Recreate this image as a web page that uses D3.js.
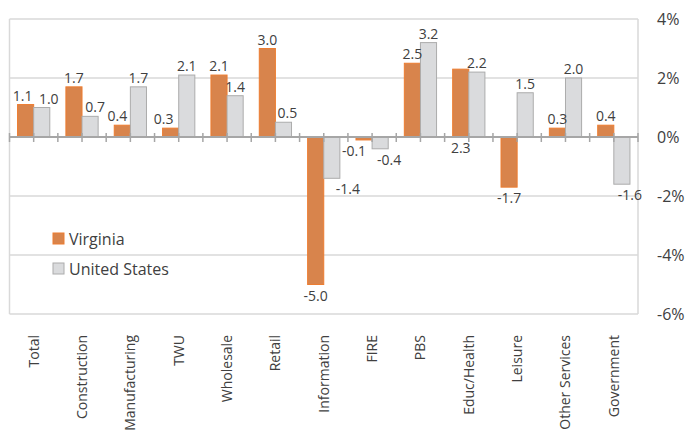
<!DOCTYPE html>
<html>
<head>
<meta charset="utf-8">
<script src="https://cdnjs.cloudflare.com/ajax/libs/d3/7.8.5/d3.min.js"></script>
<style>
  body { margin: 0; background: #fff; }
  text { font-family: "Open Sans", sans-serif; fill: #404040; }
</style>
</head>
<body>
<div id="chart"></div>
<script>
var categories = ["Total", "Construction", "Manufacturing", "TWU", "Wholesale", "Retail",
    "Information", "FIRE", "PBS", "Educ/Health", "Leisure", "Other Services", "Government"];
var virginia     = [1.1, 1.7, 0.4, 0.3, 2.1, 3.0, -5.0, -0.1, 2.5, 2.3, -1.7, 0.3, 0.4];
var unitedStates = [1.0, 0.7, 1.7, 2.1, 1.4, 0.5, -1.4, -0.4, 3.2, 2.2, 1.5, 2.0, -1.6];
var seriesNames  = ["Virginia", "United States"];
var yTicks = [4, 2, 0, -2, -4, -6];

// label tweaks the way they sit in the original
var labelBelowAxis = {"Virginia|Educ/Health": true};
var labelNudge = {"Virginia|Total": -3, "United States|Total": 7,
                  "United States|Construction": 5, "Virginia|Manufacturing": -5,
                  "Virginia|TWU": -7, "United States|Retail": 4,
                  "Virginia|FIRE": -10, "United States|FIRE": 9,
                  "United States|Information": 16, "United States|Government": 8};

var width = 692, height = 433;
var plotL = 9.5, plotR = 638, plotT = 19, plotB = 314;

var svg = d3.select("#chart")
    .append("svg")
    .attr("width", width)
    .attr("height", height);

var x = d3.scaleBand().domain(categories).range([plotL, plotR]);
var x1 = d3.scaleBand().domain(seriesNames).range([0, x.bandwidth()])
    .paddingInner(0).paddingOuter(0.5);
var y = d3.scaleLinear().domain([-6, 4]).range([plotB, plotT]);

var fills   = {"Virginia": "#d8844c", "United States": "#dadbdd"};
var strokes = {"Virginia": "#ed7d31", "United States": "#acacac"};

// gridlines
svg.selectAll("line.grid")
    .data(yTicks.filter(function(d) { return d !== 0; }))
    .enter()
    .append("line")
    .attr("class", "grid")
    .attr("x1", plotL).attr("x2", plotR)
    .attr("y1", function(d) { return y(d); })
    .attr("y2", function(d) { return y(d); })
    .style("stroke", "#d9d9d9")
    .style("stroke-width", 1.5);

// plot border sides
svg.append("line").attr("x1", plotL).attr("x2", plotL).attr("y1", plotT).attr("y2", plotB)
    .style("stroke", "#d9d9d9").style("stroke-width", 1.5);
svg.append("line").attr("x1", plotR).attr("x2", plotR).attr("y1", plotT).attr("y2", plotB)
    .style("stroke", "#d9d9d9").style("stroke-width", 1.5);

// y labels on the right
svg.selectAll("text.ylab")
    .data(yTicks)
    .enter()
    .append("text")
    .attr("class", "ylab")
    .attr("x", 657)
    .attr("y", function(d) { return y(d); })
    .attr("dy", "0.35em")
    .style("font-size", "16px")
    .text(function(d) { return d + "%"; });

// bars
var rows = [];
categories.forEach(function(c, i) {
    rows.push({cat: c, series: "Virginia", value: virginia[i]});
    rows.push({cat: c, series: "United States", value: unitedStates[i]});
});

svg.selectAll("rect.bar")
    .data(rows)
    .enter()
    .append("rect")
    .attr("class", "bar")
    .attr("x", function(d) { return x(d.cat) + x1(d.series); })
    .attr("width", x1.bandwidth())
    .attr("y", function(d) { return y(Math.max(0, d.value)); })
    .attr("height", function(d) { return Math.abs(y(d.value) - y(0)); })
    .style("fill", function(d) { return fills[d.series]; })
    .style("stroke", function(d) { return strokes[d.series]; })
    .style("stroke-width", 1);

// zero axis with ticks at band edges and band centres
svg.append("line")
    .attr("x1", plotL).attr("x2", plotR)
    .attr("y1", y(0)).attr("y2", y(0))
    .style("stroke", "#a6a6a6")
    .style("stroke-width", 2);

var tickXs = [];
categories.forEach(function(c) {
    tickXs.push(x(c));
    tickXs.push(x(c) + x.bandwidth() / 2);
});
tickXs.push(plotR);

svg.selectAll("line.tick")
    .data(tickXs)
    .enter()
    .append("line")
    .attr("class", "tick")
    .attr("x1", function(d) { return d; })
    .attr("x2", function(d) { return d; })
    .attr("y1", y(0) - 4)
    .attr("y2", y(0) + 5)
    .style("stroke", "#a6a6a6")
    .style("stroke-width", 1.5);

// data labels
svg.selectAll("text.val")
    .data(rows)
    .enter()
    .append("text")
    .attr("class", "val")
    .attr("text-anchor", "middle")
    .attr("x", function(d) {
        var k = d.series + "|" + d.cat;
        return x(d.cat) + x1(d.series) + x1.bandwidth() / 2 + (labelNudge[k] || 0);
    })
    .attr("y", function(d) {
        if (labelBelowAxis[d.series + "|" + d.cat]) return y(0) + 16;
        return d.value >= 0 ? y(d.value) - 4 : y(d.value) + 16;
    })
    .style("font-size", "14px")
    .text(function(d) { return d.value.toFixed(1); });

// category labels
svg.selectAll("text.xlab")
    .data(categories)
    .enter()
    .append("text")
    .attr("class", "xlab")
    .attr("text-anchor", "end")
    .attr("transform", function(d) {
        return "translate(" + (x(d) + x.bandwidth() / 2) + ",335) rotate(-90)";
    })
    .attr("dy", "0.35em")
    .style("font-size", "14px")
    .text(function(d) { return d; });

// legend
var legend = svg.selectAll("g.legend")
    .data(seriesNames)
    .enter()
    .append("g")
    .attr("class", "legend")
    .attr("transform", function(d, i) { return "translate(53," + (233 + i * 30) + ")"; });

legend.append("rect")
    .attr("width", 11).attr("height", 11)
    .style("fill", function(d) { return fills[d]; })
    .style("stroke", function(d) { return strokes[d]; });

legend.append("text")
    .attr("x", 16)
    .attr("y", 6)
    .attr("dy", "0.35em")
    .style("font-size", "16px")
    .text(function(d) { return d; });
</script>
</body>
</html>
